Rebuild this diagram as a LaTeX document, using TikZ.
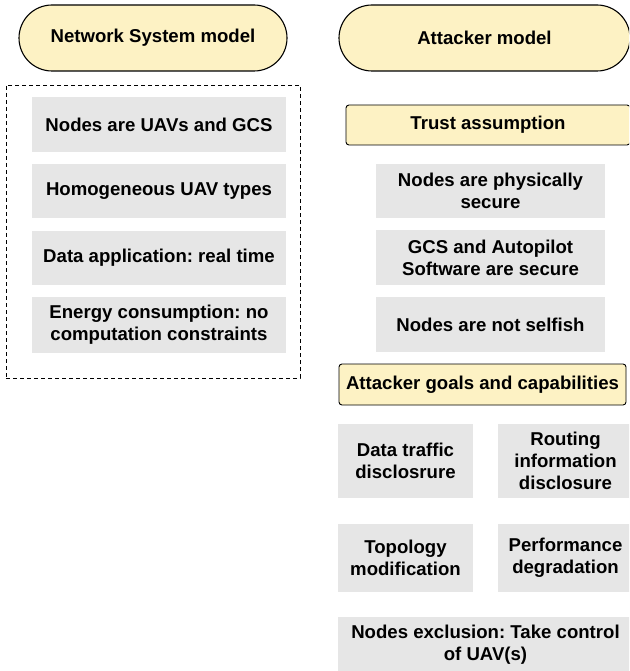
\documentclass[tikz,border=0pt]{standalone}
\usepackage{fontspec}
\setmainfont{Liberation Sans}
\frenchspacing
\definecolor{modelyellow}{RGB}{253,242,196}
\definecolor{itemgray}{RGB}{230,230,230}
\begin{document}
\begin{tikzpicture}[x=1pt,y=-1pt,
    font=\fontsize{18.6}{22}\selectfont\bfseries,
    model/.style ={draw, line width=1.1pt, fill=modelyellow, rounded corners=33pt,
                   minimum width=#1, minimum height=66pt, inner sep=0pt},
    heading/.style ={draw, line width=0.9pt, fill=modelyellow, rounded corners=3pt,
                   minimum width=#1, minimum height=40pt, inner sep=0pt},
    item/.style ={fill=itemgray, align=center, minimum width=#1, inner sep=0pt},
    frame/.style ={draw, dashed, line width=0.8pt, dash pattern=on 4pt off 3pt}]
   \useasboundingbox (0,0) rectangle (629,671);
   \clip (0,0) rectangle (629,671);

   % network system model
   \node[model=268pt] (netsys) at (153,38) {Network System model};
   \node[frame, minimum width=294pt, minimum height=293pt] (netframe) at (153,231.5) {};
   \node[item=254pt, minimum height=55pt] (uavs) at (159,124.5) {Nodes are UAVs and GCS};
   \node[item=254pt, minimum height=54pt] (homog) at (159,191) {Homogeneous UAV types};
   \node[item=254pt, minimum height=54pt] (realtime) at (159,258) {Data application: real time};
   \node[item=254pt, minimum height=56pt] (energy) at (159,325) {Energy consumption: no\\computation constraints};

   % attacker model
   \node[model=291pt] (attacker) at (484.5,38) {Attacker model};
   \node[heading=284pt] (trust) at (488,125) {Trust assumption};
   \node[item=229pt, minimum height=54pt] (physical) at (490.5,191) {Nodes are physically\\secure};
   \node[item=229pt, minimum height=55pt] (software) at (490.5,257.5) {GCS and Autopilot\\Software are secure};
   \node[item=229pt, minimum height=55pt] (selfish) at (490.5,324.5) {Nodes are not selfish};
   \node[heading=287pt, minimum height=41pt] (goals) at (482.5,384.5) {Attacker goals and capabilities};
   \node[item=135pt, minimum height=74pt] (traffic) at (405.5,461) {Data traffic\\disclosrure};
   \node[item=135pt, minimum height=74pt] (routing) at (565.5,461) {Routing\\information\\disclosure};
   \node[item=135pt, minimum height=68pt] (topology) at (405.5,558) {Topology\\modification};
   \node[item=135pt, minimum height=68pt] (perf) at (565.5,558) {Performance\\degradation};
   \node[item=295pt, minimum height=55pt] (exclusion) at (485.5,644.5) {Nodes exclusion: Take control\\of UAV(s)};
 \end{tikzpicture}
\end{document}
